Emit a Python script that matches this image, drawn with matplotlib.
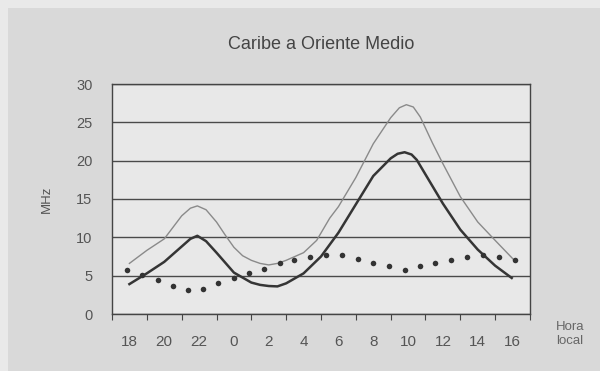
import matplotlib
matplotlib.use("Agg")
import matplotlib.pyplot as plt
from matplotlib.patches import Rectangle

plt.rcParams['font.family'] = ['Liberation Sans', 'DejaVu Sans']

# x position = hours since 17:00 (label "18" sits at 1, "16" at 23)
hour_labels = ['18', '20', '22', '0', '2', '4', '6', '8', '10', '12', '14', '16']
label_pos = [1, 3, 5, 7, 9, 11, 13, 15, 17, 19, 21, 23]

# upper curve (thin grey)
upper_x = [1.0, 2, 3, 3.5, 4, 4.5, 4.9, 5.4, 6, 6.5, 7, 7.5, 8, 8.5, 9, 9.5, 10, 11,
           11.75, 12.5, 13, 14, 15, 16, 16.5, 16.9, 17.3, 17.7, 18.4, 19, 20, 21, 22,
           23.1]
upper_y = [6.6, 8.3, 9.8, 11.3, 12.8, 13.8, 14.1, 13.6, 12.0, 10.3, 8.7, 7.6, 7.0,
           6.6, 6.4, 6.6, 7.0, 8.0, 9.6, 12.5, 14.0, 17.8, 22.2, 25.6, 26.9, 27.3,
           27.0, 25.7, 22.3, 19.6, 15.3, 12.0, 9.6, 7.0]

# lower curve (thick dark)
lower_x = [1.0, 2, 3, 4, 4.5, 4.9, 5.4, 6, 7, 8, 8.5, 9, 9.5, 10, 11, 12, 13, 14, 15,
           16, 16.4, 16.8, 17.2, 17.5, 18, 19, 20, 21, 22, 22.95]
lower_y = [3.9, 5.3, 6.8, 8.8, 9.8, 10.2, 9.5, 8.0, 5.4, 4.1, 3.8, 3.65, 3.6, 4.0,
           5.3, 7.5, 10.6, 14.3, 18.0, 20.3, 20.9, 21.1, 20.8, 20.1, 18.2, 14.4,
           11.0, 8.4, 6.3, 4.7]

# dotted series
dot_x = [0.86, 1.72, 2.62, 3.48, 4.35, 5.24, 6.10, 7.00, 7.88, 8.73, 9.63, 10.47,
         11.38, 12.27, 13.20, 14.10, 14.98, 15.90, 16.80, 17.70, 18.56, 19.48,
         20.38, 21.30, 22.21, 23.12]
dot_y = [5.7, 5.1, 4.4, 3.7, 3.1, 3.2, 4.0, 4.7, 5.3, 5.9, 6.6, 7.1, 7.4, 7.7,
         7.65, 7.2, 6.7, 6.2, 5.7, 6.2, 6.7, 7.1, 7.4, 7.7, 7.5, 7.0]

fig = plt.figure(figsize=(6, 3.71), dpi=100, facecolor='#e9e9e9')
# grey panel behind the chart
fig.patches.append(Rectangle((8 / 600, 0), 1, 1 - 8 / 371, transform=fig.transFigure,
                             facecolor='#d9d9d9', edgecolor='none', zorder=-1))

ax = fig.add_axes([112 / 600, 57 / 371, 418 / 600, 230 / 371])
ax.set_facecolor('#e8e8e8')

ax.plot(upper_x, upper_y, color='#8a8a8a', lw=1.0, zorder=3)
ax.plot(lower_x, lower_y, color='#353535', lw=1.8, zorder=4)
ax.plot(dot_x, dot_y, 'o', color='#333333', ms=4, mec='none', zorder=5)

ax.set_xlim(0, 24)
ax.set_ylim(0, 30)
ax.set_yticks(range(0, 31, 5))
ax.yaxis.grid(True, color='#4a4a4a', lw=1.0)
ax.set_axisbelow(True)
ax.tick_params(axis='y', length=0, pad=14, labelsize=10.5, labelcolor='#555555')

ax.set_xticks(range(0, 25, 2))
ax.set_xticklabels([])
ax.set_xticks(label_pos, minor=True)
ax.set_xticklabels(hour_labels, minor=True)
ax.tick_params(axis='x', which='major', direction='out', length=4, color='#444444')
ax.tick_params(axis='x', which='minor', length=0, pad=15, labelsize=11,
               labelcolor='#555555')

for s in ax.spines.values():
    s.set_color('#444444')
    s.set_linewidth(1.0)

ax.set_title('Caribe a Oriente Medio', fontsize=13, color='#444444', pad=25)
ax.set_ylabel('MHz', fontsize=9.5, color='#555555', labelpad=17)
fig.text(570 / 600, 1 - 334 / 371, 'Hora\nlocal', ha='center', va='center',
         fontsize=9.5, color='#666666', linespacing=1.3)

fig.savefig('out.png', dpi=100, facecolor=fig.get_facecolor())
